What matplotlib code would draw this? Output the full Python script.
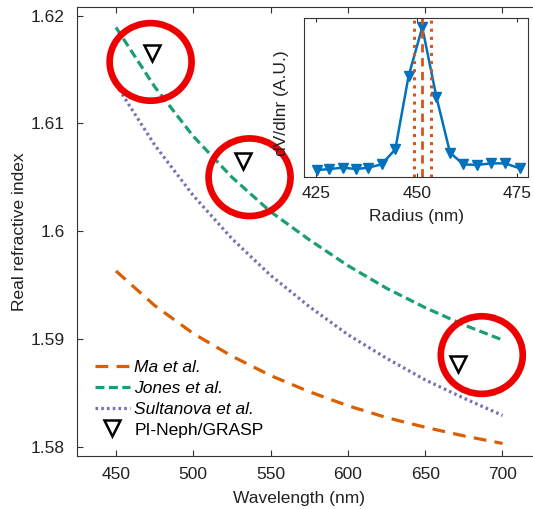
import matplotlib
matplotlib.use('Agg')
import matplotlib.pyplot as plt
from matplotlib.patches import Ellipse

plt.rcParams['font.family'] = ['Liberation Sans', 'DejaVu Sans']
plt.rcParams['font.size'] = 12.5

# refractive index curves
wavelength = [450, 475, 500, 525, 550, 575, 600, 625, 650, 675, 700]
n_ma = [1.5963, 1.5931, 1.5905, 1.5884, 1.5866, 1.5851, 1.5838, 1.5827, 1.5818, 1.5810, 1.5803]
n_jones = [1.6189, 1.6134, 1.6088, 1.6050, 1.6018, 1.5992, 1.5968, 1.5947, 1.5929, 1.5913, 1.5899]
n_sultanova = [1.6136, 1.6080, 1.6033, 1.5993, 1.5959, 1.5930, 1.5904, 1.5882, 1.5862, 1.5845, 1.5829]

# PI-Neph/GRASP retrievals
neph_wl = [473, 532, 671]
neph_n = [1.6165, 1.6065, 1.5877]

# red highlight circles
circle_wl = [472.4, 536.4, 686.6]
circle_n = [1.6157, 1.6050, 1.5885]

# inset: size distribution
radius = [425.2, 428.3, 431.6, 435.0, 438.0, 441.3, 444.7, 448.0,
          451.4, 454.9, 458.3, 461.6, 465.0, 468.5, 472.0, 475.6]
dvdlnr = [0.042, 0.048, 0.057, 0.048, 0.057, 0.078, 0.173, 0.636,
          0.943, 0.505, 0.152, 0.078, 0.074, 0.084, 0.084, 0.053]
r_peak = 451.4
r_low = 449.3
r_high = 453.6

fig = plt.figure(figsize=(5.33, 5.09), dpi=100)
ax = fig.add_axes([0.1445, 0.1051, 0.8705, 0.8806])

orange = '#d95f02'
green = '#1b9e77'
purple = '#7570b3'

ax.plot(wavelength, n_ma, color=orange, lw=2.3, dashes=(4, 2.6), label='Ma et al.')
ax.plot(wavelength, n_jones, color=green, lw=2.3, dashes=(2.8, 1.4), label='Jones et al.')
ax.plot(wavelength, n_sultanova, color=purple, lw=2.3, dashes=(0.8, 1.0), label='Sultanova et al.')
ax.plot(neph_wl, neph_n, linestyle='none', marker='v', markersize=11,
        markerfacecolor='none', markeredgecolor='black', markeredgewidth=1.8,
        label='PI-Neph/GRASP')

for cx, cy in zip(circle_wl, circle_n):
    ax.add_patch(Ellipse((cx, cy), 53, 0.0072, fill=False, edgecolor='#ee0000',
                         lw=4.8, zorder=5))

ax.set_xlim(424.8, 724.9)
ax.set_ylim(1.57918, 1.62077)
ax.set_xticks([450, 500, 550, 600, 650, 700])
ax.set_yticks([1.58, 1.59, 1.6, 1.61, 1.62])
ax.set_yticklabels(['1.58', '1.59', '1.6', '1.61', '1.62'])
ax.tick_params(direction='in', top=True, right=False, length=4, width=0.8,
               colors='#333333', labelcolor='#222222')
ax.tick_params(axis='x', pad=8)
ax.tick_params(axis='y', pad=9)
for name in ['left', 'bottom', 'top']:
    ax.spines[name].set_color('#333333')
    ax.spines[name].set_linewidth(0.8)
ax.spines['right'].set_visible(False)

ax.set_xlabel('Wavelength (nm)', color='#222222')
ax.xaxis.set_label_coords(0.478, -0.079)
ax.set_ylabel('Real refractive index', color='#222222')
ax.yaxis.set_label_coords(-0.108, 0.5)

leg = ax.legend(loc='lower left', bbox_to_anchor=(0.039, 0.04), frameon=False,
                borderpad=0, borderaxespad=0, handlelength=2.0, handletextpad=0.25,
                labelspacing=0.32, fontsize=12.5)
for t in leg.get_texts()[:3]:
    t.set_style('italic')

# inset
ins = fig.add_axes([0.5704, 0.6529, 0.4203, 0.3112])
ins.plot(radius, dvdlnr, color='#0072bd', lw=1.8, marker='v', markersize=7)
ins.axvline(r_low, color='#d9541a', lw=2.2, linestyle=':')
ins.axvline(r_high, color='#d9541a', lw=2.2, linestyle=':')
ins.axvline(r_peak, color='#d9541a', lw=2.0, dashes=(3, 2))
ins.set_xlim(422.0, 477.7)
ins.set_ylim(0, 1)
ins.set_xticks([425, 450, 475])
ins.set_yticks([])
ins.tick_params(direction='in', top=True, length=3, width=0.8, pad=7,
                colors='#333333', labelcolor='#222222')
for s in ins.spines.values():
    s.set_color('#333333')
    s.set_linewidth(0.8)
ins.set_xlabel('Radius (nm)', color='#222222')
ins.xaxis.set_label_coords(0.5, -0.204)
ins.set_ylabel('dV/dlnr (A.U.)', color='#222222')
ins.yaxis.set_label_coords(-0.065, 0.462)

fig.savefig('out.png', dpi=100)
